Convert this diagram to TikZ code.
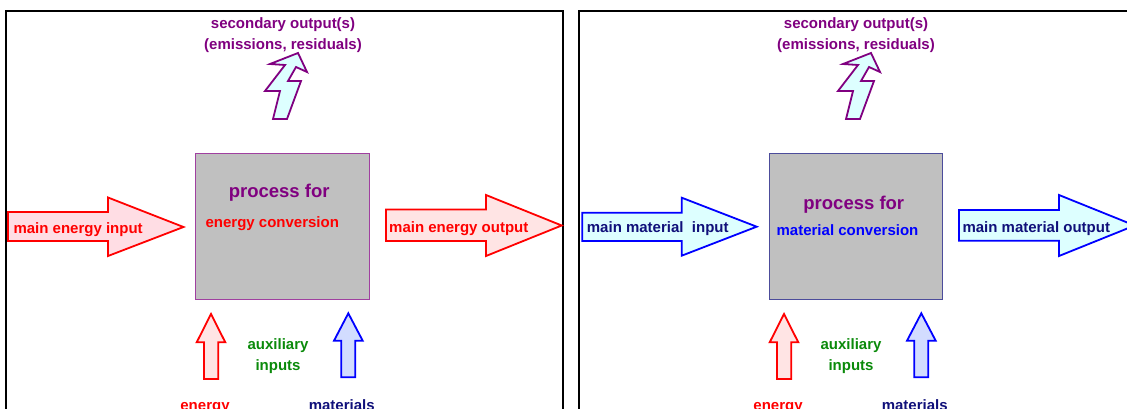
\documentclass[tikz,border=0pt]{standalone}
\usepackage{fontspec}
\setmainfont{Liberation Sans}
\definecolor{procpurple}{HTML}{800080}
\definecolor{auxgreen}{HTML}{0A8A0A}
\definecolor{navytext}{HTML}{10107A}
\definecolor{pinkfill}{HTML}{FFDDE4}
\definecolor{rosefill}{HTML}{FFE4E4}
\definecolor{cyanfill}{HTML}{DDFFFF}
\definecolor{bluefill}{HTML}{D2DCFF}
\definecolor{boxgray}{HTML}{C0C0C0}
\tikzset{
  lbl/.style={inner sep=0pt, font=\fontsize{15}{21}\selectfont\bfseries, align=center},
  big/.style={inner sep=0pt, font=\fontsize{18.5}{22}\selectfont\bfseries, text=procpurple},
  blockarrow/.style={line width=1.8pt, line join=miter},
  frame/.style={line width=2pt}
}
\begin{document}
\begin{tikzpicture}[x=1pt,y=-1pt]
   \useasboundingbox (0,0) rectangle (1127,409);
   \clip (0,0) rectangle (1127,409);

   % 左: エネルギー変換
   \begin{scope}
   \draw[frame] (6,412) -- (6,11) -- (563,11) -- (563,412);
   \node[lbl, text=procpurple] (sec) at (283,35) {secondary output(s)\\(emissions, residuals)};
   \draw[blockarrow, draw=procpurple, fill=cyanfill] (298,53) -- (307,72) -- (296,67) -- (288,81) -- (301,81) -- (287,119)
      -- (273,119) -- (280,91) -- (265,91) -- (285,65) -- (270,64) -- cycle;
   \draw[line width=1pt, draw=procpurple!75, fill=boxgray] (195.5,153.5) rectangle (369,299);
   \node[big] (proc) at (279.2,193) {process for};
   \node[lbl, text=red] (conv) at (272.3,224) {energy conversion};
   \draw[blockarrow, draw=red, fill=pinkfill] (8,212) -- (108,212) -- (108,197.5) -- (183.5,227) -- (108,256) -- (108,241) -- (8,241) -- cycle;
   \node[lbl, text=red, anchor=west] (inlbl) at (13.3,229.5) {main energy input};
   \draw[blockarrow, draw=red, fill=rosefill] (386,209.5) -- (486,209.5) -- (486,195) -- (561.7,225.5) -- (486,256) -- (486,241) -- (386,241) -- cycle;
   \node[lbl, text=red, anchor=west] (outlbl) at (389,229) {main energy output};
   % 補助入力
   \draw[blockarrow, draw=red, fill=rosefill] (204,379) -- (204,342.3) -- (196.7,342.3) -- (211,314) -- (225.3,342.3) -- (218.3,342.3) -- (218.3,379) -- cycle;
   \draw[blockarrow, draw=blue, fill=bluefill] (341.3,377.3) -- (341.3,340.7) -- (334,340.7) -- (348.3,313.3) -- (362.7,340.7) -- (355.3,340.7) -- (355.3,377.3) -- cycle;
   \node[lbl, text=auxgreen] (aux) at (278,356.5) {auxiliary\\inputs};
   \node[lbl, text=red, anchor=base] (en) at (205,410) {energy};
   \node[lbl, text=navytext, anchor=base] (mat) at (341.7,410) {materials};
   \end{scope}

   % 右: 物質変換
   \begin{scope}[xshift=573]
   \draw[frame] (6,412) -- (6,11) -- (563,11) -- (563,412);
   \node[lbl, text=procpurple] (sec2) at (283,35) {secondary output(s)\\(emissions, residuals)};
   \draw[blockarrow, draw=procpurple, fill=cyanfill] (298,53) -- (307,72) -- (296,67) -- (288,81) -- (301,81) -- (287,119)
      -- (273,119) -- (280,91) -- (265,91) -- (285,65) -- (270,64) -- cycle;
   \draw[line width=1pt, draw=navytext!75, fill=boxgray] (196,153.5) rectangle (369.7,299.3);
   \node[big] (proc2) at (280.8,204.3) {process for};
   \node[lbl, text=blue] (conv2) at (274.5,230) {material conversion};
   \draw[blockarrow, draw=blue, fill=cyanfill] (9.3,212.7) -- (108.7,212.7) -- (108.7,197.7) -- (183.7,226.7) -- (108.7,255.7) -- (108.7,241) -- (9.3,241) -- cycle;
   \node[lbl, text=navytext, anchor=west] (inlbl2) at (13.7,229) {main material~ input};
   \draw[blockarrow, draw=blue, fill=cyanfill] (386,210) -- (486,210) -- (486,195) -- (561.7,225.5) -- (486,256) -- (486,240.7) -- (386,240.7) -- cycle;
   \node[lbl, text=navytext, anchor=west] (outlbl2) at (389.3,229) {main material output};
   % 補助入力
   \draw[blockarrow, draw=red, fill=rosefill] (204,379) -- (204,342.3) -- (196.7,342.3) -- (211,314) -- (225.3,342.3) -- (218.3,342.3) -- (218.3,379) -- cycle;
   \draw[blockarrow, draw=blue, fill=bluefill] (341.3,377.3) -- (341.3,340.7) -- (334,340.7) -- (348.3,313.3) -- (362.7,340.7) -- (355.3,340.7) -- (355.3,377.3) -- cycle;
   \node[lbl, text=auxgreen] (aux2) at (278,356.5) {auxiliary\\inputs};
   \node[lbl, text=red, anchor=base] (en2) at (205,410) {energy};
   \node[lbl, text=navytext, anchor=base] (mat2) at (341.7,410) {materials};
   \end{scope}

\end{tikzpicture}
\end{document}
